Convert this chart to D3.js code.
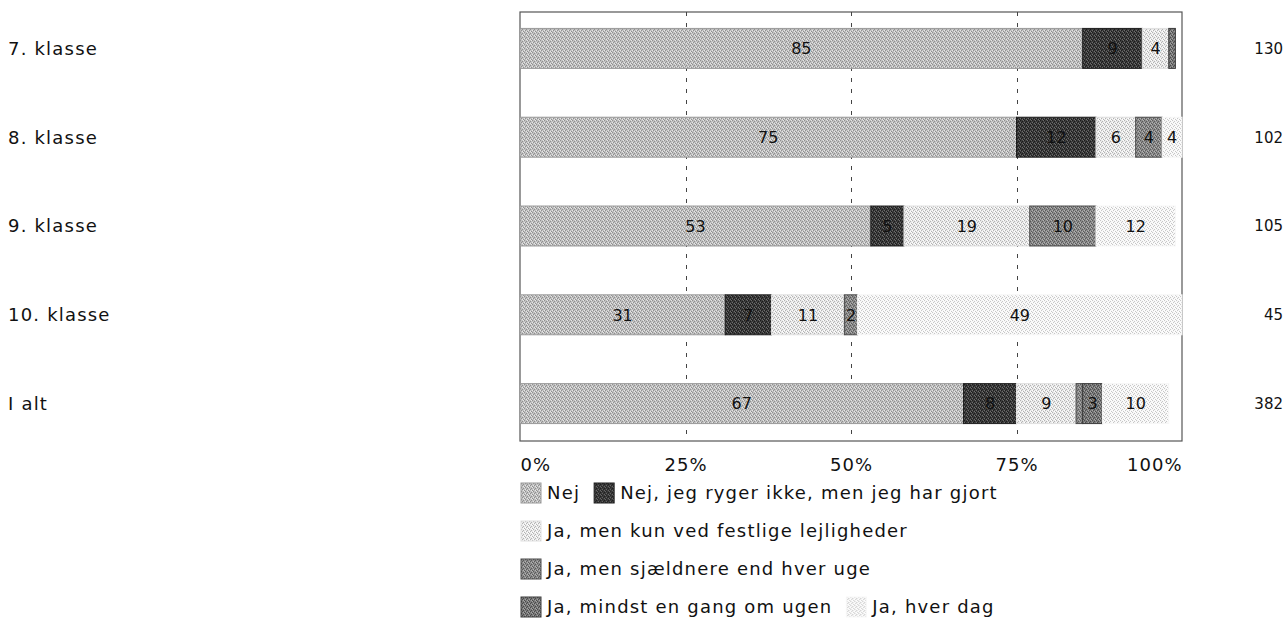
<!DOCTYPE html>
<html>
<head>
<meta charset="utf-8">
<script src="https://cdn.jsdelivr.net/npm/d3@7"></script>
<style>
  html, body { margin: 0; padding: 0; background: #fff; }
  svg { display: block; font-family: "DejaVu Sans", Verdana, sans-serif; }
</style>
</head>
<body>
<svg id="chart" width="1288" height="628"></svg>
<script>
// Grades (rows) and the number of respondents per grade
const grades = ["7. klasse", "8. klasse", "9. klasse", "10. klasse", "I alt"];
const respondents = [130, 102, 105, 45, 382];

// Answer categories, in stacking order
const answers = [
  "Nej",
  "Nej, jeg ryger ikke, men jeg har gjort",
  "Ja, men kun ved festlige lejligheder",
  "Ja, men sjældnere end hver uge",
  "Ja, mindst en gang om ugen",
  "Ja, hver dag"
];

// Percent per grade for each answer
const nej          = [85, 75, 53, 31, 67];
const nejHarGjort  = [9, 12, 5, 7, 8];
const festlige     = [4, 6, 19, 11, 9];
const sjaeldnere   = [0, 4, 10, 2, 1];
const mindstUge    = [1, 0, 0, 0, 3];
const hverDag      = [0, 4, 12, 49, 10];

const tickValues = [0, 25, 50, 75, 100];
const tickLabels = ["0%", "25%", "50%", "75%", "100%"];

const seriesValues = [nej, nejHarGjort, festlige, sjaeldnere, mindstUge, hverDag];

// Grainy halftone fills: base tone, speckle tones, stroke tone
const tones = [
  { base: "#c0c0c0", dot: "#909090", light: "#e6e6e6", stroke: "#9a9a9a" },
  { base: "#3c3c3c", dot: "#1a1a1a", light: "#6c6c6c", stroke: "#1e1e1e" },
  { base: "#e9e9e9", dot: "#b4b4b4", light: "#ffffff", stroke: "#e0e0e0" },
  { base: "#8a8a8a", dot: "#5a5a5a", light: "#b2b2b2", stroke: "#4a4a4a" },
  { base: "#7a7a7a", dot: "#4a4a4a", light: "#a4a4a4", stroke: "#3a3a3a" },
  { base: "#f7f7f7", dot: "#c8c8c8", light: "#ffffff", stroke: "#f7f7f7" }
];

const svg = d3.select("#chart");
const defs = svg.append("defs");

// Each tile is 4x4 px with a few fixed speckles to imitate dithering
const dotSpots = [[0, 0], [2, 1], [1, 2], [3, 3]];
const lightSpots = [[2, 3], [0, 2], [3, 0]];
tones.forEach((t, i) => {
  const p = defs.append("pattern")
    .attr("id", "fill" + i)
    .attr("patternUnits", "userSpaceOnUse")
    .attr("width", 4).attr("height", 4);
  p.append("rect").attr("width", 4).attr("height", 4).attr("fill", t.base);
  dotSpots.forEach(([x, y]) => p.append("rect").attr("x", x).attr("y", y)
    .attr("width", 1).attr("height", 1).attr("fill", t.dot));
  lightSpots.forEach(([x, y]) => p.append("rect").attr("x", x).attr("y", y)
    .attr("width", 1).attr("height", 1).attr("fill", t.light));
});

// Plot area
const plot = { left: 520, right: 1182, top: 12, bottom: 441 };

const x = d3.scaleLinear().domain([0, 100]).range([plot.left, plot.right]).clamp(true);
const y = d3.scaleBand().domain(grades).range([4, 448])
  .paddingInner(0.55).paddingOuter(0.275);

// Stack the rows
const rows = grades.map((g, gi) => {
  const r = { grade: g };
  answers.forEach((a, ai) => { r[a] = seriesValues[ai][gi]; });
  return r;
});
const stacked = d3.stack().keys(answers)(rows);

// Frame
svg.append("rect")
  .attr("x", plot.left).attr("y", plot.top)
  .attr("width", plot.right - plot.left).attr("height", plot.bottom - plot.top)
  .attr("fill", "none").attr("stroke", "#555").attr("stroke-width", 1.2);

// Dashed gridlines
svg.append("g").selectAll("line")
  .data(tickValues.slice(1, -1))
  .join("line")
  .attr("x1", d => Math.round(x(d)) + 0.5).attr("x2", d => Math.round(x(d)) + 0.5)
  .attr("y1", plot.top).attr("y2", plot.bottom)
  .attr("stroke", "#444").attr("stroke-width", 1)
  .attr("stroke-dasharray", "4,7");

// Bars
const layer = svg.append("g").selectAll("g")
  .data(stacked)
  .join("g");

layer.selectAll("rect")
  .data((s, i) => s.map(d => ({ d, i })))
  .join("rect")
  .filter(o => o.d[1] - o.d[0] > 0)
  .attr("x", o => x(o.d[0]))
  .attr("y", o => y(o.d.data.grade))
  .attr("width", o => x(o.d[1]) - x(o.d[0]))
  .attr("height", y.bandwidth())
  .attr("fill", o => `url(#fill${o.i})`)
  .attr("stroke", o => tones[o.i].stroke)
  .attr("stroke-width", 1);

// Values inside the bars (segments under 2 % stay unlabelled)
layer.selectAll("text")
  .data((s) => s.filter(d => d[1] - d[0] >= 2))
  .join("text")
  .attr("x", d => (x(d[0]) + x(d[1])) / 2)
  .attr("y", d => y(d.data.grade) + y.bandwidth() / 2)
  .attr("dy", "0.36em")
  .attr("text-anchor", "middle")
  .attr("font-size", 16)
  .attr("fill", "#111")
  .text(d => d[1] - d[0]);

// Row labels on the left
svg.append("g").selectAll("text")
  .data(grades)
  .join("text")
  .attr("x", 8)
  .attr("y", d => y(d) + y.bandwidth() / 2)
  .attr("dy", "0.36em")
  .attr("font-size", 18)
  .attr("letter-spacing", 1.2)
  .attr("fill", "#111")
  .text(d => d);

// Respondent counts on the right
svg.append("g").selectAll("text")
  .data(grades)
  .join("text")
  .attr("x", 1283)
  .attr("y", d => y(d) + y.bandwidth() / 2)
  .attr("dy", "0.36em")
  .attr("text-anchor", "end")
  .attr("font-size", 15)
  .attr("fill", "#111")
  .text((d, i) => respondents[i]);

// Percent axis below the frame
const axis = d3.axisBottom(x).tickValues(tickValues)
  .tickFormat((d, i) => tickLabels[i]).tickSize(0).tickPadding(0);
const axisG = svg.append("g")
  .attr("transform", `translate(0, ${plot.bottom + 17})`)
  .call(axis);
axisG.select(".domain").remove();
axisG.selectAll("text")
  .attr("font-family", "\"DejaVu Sans\", Verdana, sans-serif")
  .attr("font-size", 18)
  .attr("letter-spacing", 1)
  .attr("fill", "#111")
  .attr("text-anchor", (d, i) => i === 0 ? "start" : (i === tickValues.length - 1 ? "end" : "middle"));

// Legend: four rows, two entries share the first and the last row
const legendRows = [[0, 1], [2], [3], [4, 5]];
const legendLeft = 521, legendTop = 483, legendStep = 38;
const swatch = 20, textGap = 26, itemGap = 14;

legendRows.forEach((items, r) => {
  let cx = legendLeft;
  items.forEach(i => {
    const g = svg.append("g")
      .attr("transform", `translate(${cx}, ${legendTop + r * legendStep})`);
    g.append("rect")
      .attr("width", swatch).attr("height", swatch)
      .attr("fill", `url(#fill${i})`)
      .attr("stroke", tones[i].stroke)
      .attr("stroke-width", 1);
    const t = g.append("text")
      .attr("x", textGap).attr("y", swatch / 2).attr("dy", "0.36em")
      .attr("font-size", 18)
      .attr("letter-spacing", 1.2)
      .attr("fill", "#111")
      .text(answers[i]);
    cx += textGap + t.node().getComputedTextLength() + itemGap;
  });
});
</script>
</body>
</html>
